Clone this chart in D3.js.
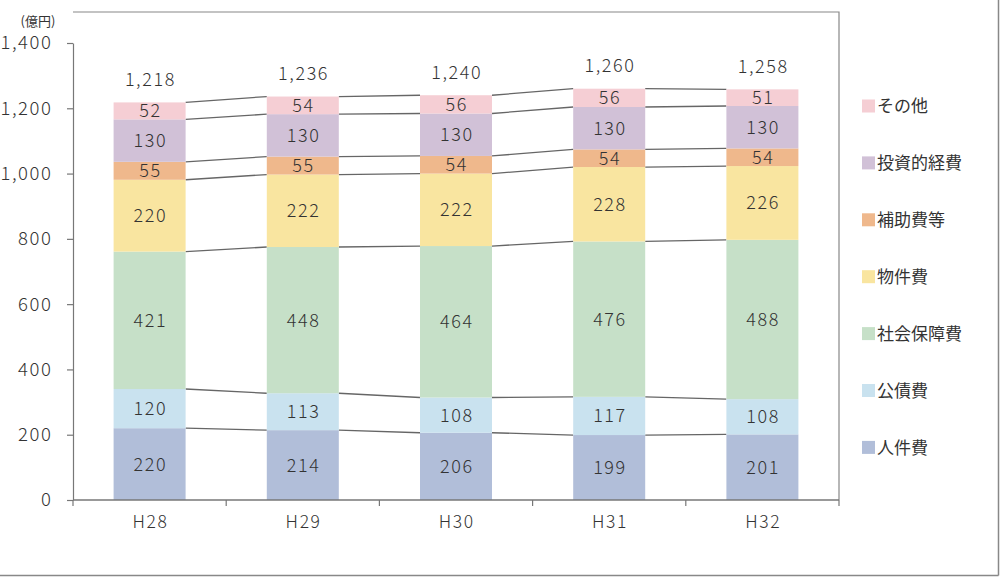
<!DOCTYPE html>
<html><head><meta charset="utf-8">
<script src="https://cdn.jsdelivr.net/npm/d3@7"></script>
<style>
html,body{margin:0;padding:0;background:#fff;}
svg{display:block;}
</style></head>
<body>
<svg id="chart" width="1000" height="577"></svg>
<script>
const categories = ["H28","H29","H30","H31","H32"];
const seriesNames = ["人件費","公債費","社会保障費","物件費","補助費等","投資的経費","その他"];
const jinkenhi   = [220,214,206,199,201];
const kosaihi    = [120,113,108,117,108];
const shakaihosho= [421,448,464,476,488];
const bukkenhi   = [220,222,222,228,226];
const hojohi     = [55,55,54,54,54];
const toshiteki  = [130,130,130,130,130];
const sonota     = [52,54,56,56,51];
const totals     = [1218,1236,1240,1260,1258];
const yTicks     = [0,200,400,600,800,1000,1200,1400];
const colors = ["#b1bed9","#c9e2ef","#c6e0c8","#f9e5a0","#efb88c","#d1c1d7","#f5ced4"];
const seriesValues = [jinkenhi,kosaihi,shakaihosho,bukkenhi,hojohi,toshiteki,sonota];

const numFont = "'Noto Sans CJK JP', 'Noto Sans', sans-serif";
const jpFont = "'Noto Sans CJK JP', sans-serif";
const textColor = "#333";
const numWeight = 300;
const numSpacing = "1.6px";

const svg = d3.select("#chart");
const mLeft = 73, mRight = 839, mTop = 12, mBottom = 500;

const x = d3.scaleBand().domain(categories).range([mLeft, mRight]).paddingInner(0.53).paddingOuter(0.265);
const y = d3.scaleLinear().domain([0,1400]).range([mBottom, 43]);

// outer frame lines
svg.append("line").attr("x1",998.5).attr("x2",998.5).attr("y1",0).attr("y2",575.5).attr("stroke","#888").attr("stroke-width",1.5);
svg.append("line").attr("x1",0).attr("x2",998.5).attr("y1",575.5).attr("y2",575.5).attr("stroke","#888").attr("stroke-width",1.5);

// plot border top/right
svg.append("path")
  .attr("d", `M${mLeft},${mTop}H${mRight}V${mBottom}`)
  .attr("fill","none").attr("stroke","#888").attr("stroke-width",1.2);

// stack data
const table = categories.map((c,i) => {
  const o = {cat:c};
  seriesNames.forEach((s,j) => o[s] = seriesValues[j][i]);
  return o;
});
const stack = d3.stack().keys(seriesNames)(table);

// connecting lines
stack.forEach(layer => {
  for (let i = 0; i < categories.length - 1; i++) {
    svg.append("line")
      .attr("x1", x(categories[i]) + x.bandwidth())
      .attr("x2", x(categories[i+1]))
      .attr("y1", y(layer[i][1]))
      .attr("y2", y(layer[i+1][1]))
      .attr("stroke","#666").attr("stroke-width",1.3);
  }
});

function numText(sel, size) {
  sel.attr("font-family", numFont).attr("font-size", size).attr("font-weight", numWeight)
     .attr("letter-spacing", numSpacing).attr("fill", textColor);
}

// bars
const g = svg.append("g");
stack.forEach((layer, j) => {
  g.selectAll(null).data(layer).enter().append("rect")
    .attr("x", (d,i) => x(categories[i]))
    .attr("width", x.bandwidth())
    .attr("y", d => y(d[1]))
    .attr("height", d => y(d[0]) - y(d[1]))
    .attr("fill", colors[j]);
  g.selectAll(null).data(layer).enter().append("text")
    .attr("x", (d,i) => x(categories[i]) + x.bandwidth()/2 + 0.8)
    .attr("y", d => (y(d[0]) + y(d[1]))/2)
    .attr("dy","0.36em")
    .attr("text-anchor","middle")
    .call(numText, 18)
    .text(d => d[1]-d[0]);
});

// totals
svg.selectAll(null).data(totals).enter().append("text")
  .attr("x", (d,i) => x(categories[i]) + x.bandwidth()/2 + 0.8)
  .attr("y", d => y(d) - 23)
  .attr("dy","0.36em")
  .attr("text-anchor","middle")
  .call(numText, 18)
  .text(d => d3.format(",")(d));

// y axis
const yAxis = svg.append("g").attr("transform", `translate(${mLeft},0)`)
  .call(d3.axisLeft(y).tickValues(yTicks).tickFormat(d3.format(",")).tickSize(6).tickPadding(16).tickSizeOuter(0));
yAxis.select(".domain").attr("stroke","#777").attr("stroke-width",1.2);
yAxis.selectAll(".tick line").attr("stroke","#777").attr("stroke-width",1.2);
yAxis.selectAll(".tick text").call(numText, 18.5).attr("dx", "1.6px");

// x axis
svg.append("line").attr("x1",mLeft).attr("x2",mRight).attr("y1",mBottom).attr("y2",mBottom).attr("stroke","#777").attr("stroke-width",1.5);
const boundaries = categories.map(c => x(c) - x.step()*x.paddingInner()/2).concat([mRight]);
boundaries[0] = mLeft;
svg.selectAll(null).data(boundaries).enter().append("line")
  .attr("x1", d => d).attr("x2", d => d)
  .attr("y1", mBottom).attr("y2", mBottom + 6)
  .attr("stroke","#777").attr("stroke-width",1.2);
svg.selectAll(null).data(categories).enter().append("text")
  .attr("x", d => x(d) + x.bandwidth()/2 + 0.8)
  .attr("y", mBottom + 22)
  .attr("dy","0.36em")
  .attr("text-anchor","middle")
  .call(numText, 17.5)
  .text(d => d);

// unit label
svg.append("text").attr("x", 38).attr("y", 21).attr("dy","0.36em")
  .attr("text-anchor","middle").attr("font-family", jpFont).attr("font-size",13).attr("fill",textColor)
  .text("(億円)");

// legend
const legendItems = seriesNames.slice().reverse();
const legendColors = colors.slice().reverse();
const lg = svg.append("g");
legendItems.forEach((name, i) => {
  const cy = 106 + i * 56.9;
  lg.append("rect").attr("x", 862).attr("y", cy - 6.5).attr("width", 13).attr("height", 13).attr("fill", legendColors[i]);
  lg.append("text").attr("x", 877).attr("y", cy).attr("dy","0.36em")
    .attr("font-family", jpFont).attr("font-size",17).attr("fill",textColor)
    .text(name);
});
</script>
</body></html>
